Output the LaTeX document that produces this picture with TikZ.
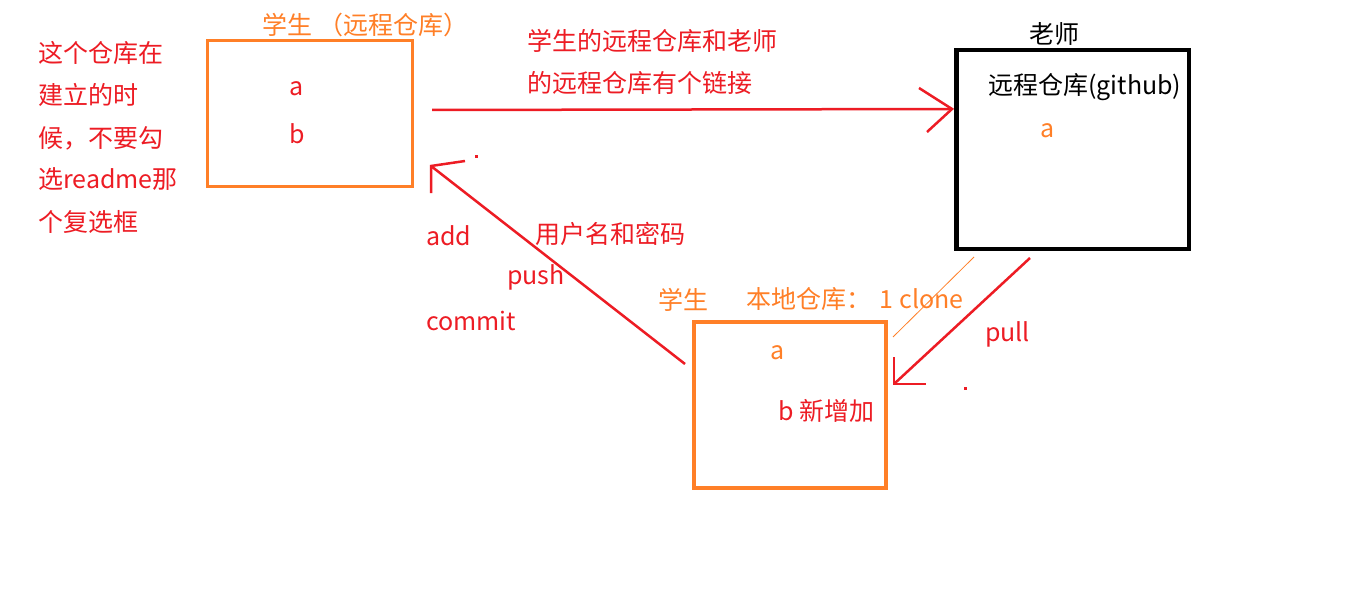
\documentclass[tikz,border=0pt]{standalone}
\usepackage{fontspec}
\setmainfont{Noto Sans CJK SC}
\usetikzlibrary{positioning}
\definecolor{paintRed}{RGB}{237,28,36}
\definecolor{paintOrange}{RGB}{255,127,39}

\begin{document}
\begin{tikzpicture}[x = 1pt, y = -1pt]
	\tikzstyle{textStyle} = [anchor = base west, inner sep = 0pt, font = \fontsize{25}{29}\selectfont]
	\tikzstyle{redText} = [textStyle, text = paintRed]
	\tikzstyle{orangeText} = [textStyle, text = paintOrange]
	\tikzstyle{blackText} = [textStyle, text = black]
	\tikzstyle{repoStyle} = [shape = rectangle, inner sep = 0pt, draw]
	\tikzstyle{redLine} = [draw = paintRed, line width = 2.5pt]
	\path[use as bounding box, fill = white] (0, 0) rectangle (1360, 591);
	% repositories
	\node[repoStyle, draw = paintOrange, line width = 3.3pt, minimum width = 205, minimum height = 146] (remoteRepo) at (310, 113.5) {};
	\node[repoStyle, line width = 4.5pt, minimum width = 232.5, minimum height = 198.5] (teacherRepo) at (1072.5, 149.5) {};
	\node[repoStyle, draw = paintOrange, line width = 4pt, minimum width = 192, minimum height = 166] (localRepo) at (790, 405) {};
	% texts
	\node[orangeText] (remoteTitle) at (262, 35) {学生\hspace{6pt}（远程仓库）};
	\node[redText] (remoteA) at (289, 96) {a};
	\node[redText] (remoteB) at (289, 144) {b};
	\foreach \noteText [count = \i] in {这个仓库在, 建立的时, 候，不要勾, 选readme那, 个复选框}
		\node[redText] (note\i) at (38, 21 + 42 * \i) {\noteText};
	\node[redText] (linkNoteA) at (527, 51) {学生的远程仓库和老师};
	\node[redText] (linkNoteB) at (527, 93) {的远程仓库有个链接};
	\node[blackText] (teacherTitle) at (1029, 44) {老师};
	\node[blackText] (teacherName) at (988, 95) {远程仓库(github)};
	\node[orangeText] (teacherA) at (1040, 138) {a};
	\node[redText] (addLabel) at (426, 245) {add};
	\node[redText] (pushLabel) at (507, 284) {push};
	\node[redText] (commitLabel) at (426, 330) {commit};
	\node[redText] (loginLabel) at (535, 243) {用户名和密码};
	\node[orangeText] (localTitle) at (658, 309) {学生};
	\node[orangeText] (cloneLabel) at (746, 308) {本地仓库：\hspace{3pt} 1 clone};
	\node[orangeText] (localA) at (770, 359) {a};
	\node[redText] (localB) at (778, 420) {b 新增加};
	\node[redText] (pullLabel) at (985, 341) {pull};
	% connectors
	\coordinate (linkStart) at (432, 110);
	\coordinate (linkEnd) at (952, 109);
	\coordinate (pushStart) at (685, 364);
	\coordinate (pushEnd) at (431, 166);
	\coordinate (pullStart) at (1030, 258);
	\coordinate (pullEnd) at (894, 384);
	\coordinate (cloneStart) at (974, 257);
	\coordinate (cloneEnd) at (893, 337);
	\draw[redLine] (linkStart) -- (linkEnd);
	\draw[redLine] (linkEnd) ++(-33, -21) -- (linkEnd) -- ++(-25, 23);
	\draw[redLine] (pushStart) -- (pushEnd);
	\draw[redLine] (pushEnd) ++(0, 27) -- (pushEnd) -- ++(34, -5);
	\draw[redLine] (pullStart) -- (pullEnd);
	\draw[redLine] (pullEnd) ++(0, -27) -- (pullEnd) -- ++(32, 0);
	\draw[paintOrange, line width = 0.8pt] (cloneStart) -- (cloneEnd);
	\fill[paintRed] (474.5, 155.5) rectangle ++(3, 3);
	\fill[paintRed] (963.5, 386.5) rectangle ++(3, 3);
\end{tikzpicture}
\end{document}
